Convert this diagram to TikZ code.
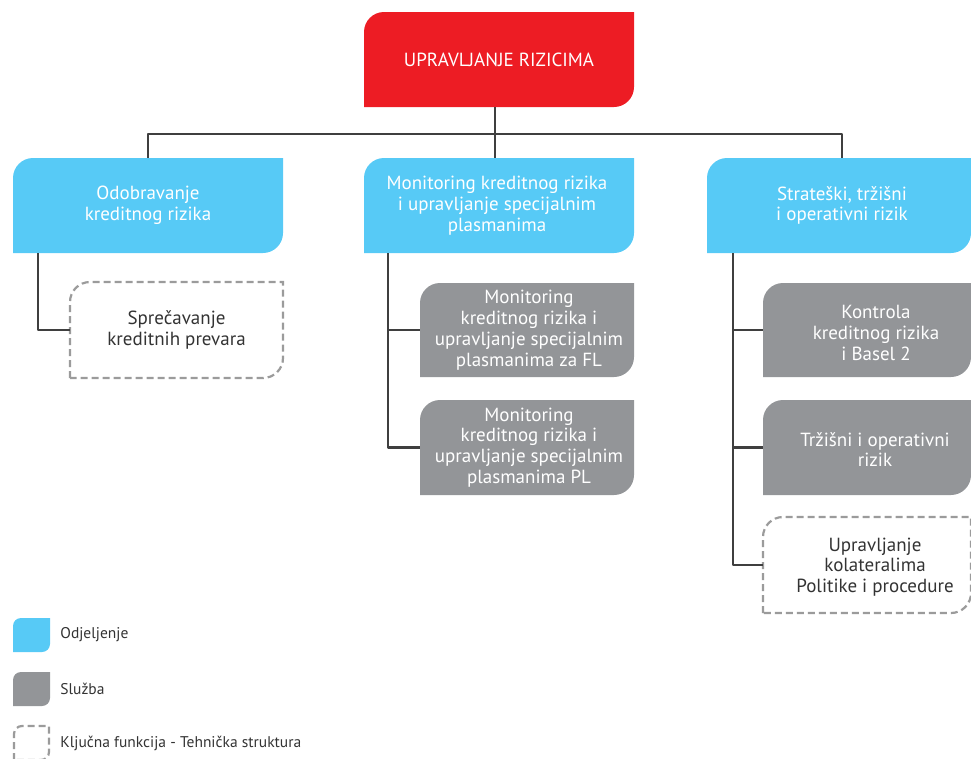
\documentclass[tikz,border=0pt]{standalone}
\usepackage{fontspec}
\setmainfont{PT Sans}
\usetikzlibrary{calc}
\definecolor{rRed}{HTML}{ED1C24}
\definecolor{rBlue}{HTML}{57CAF6}
\definecolor{rGrey}{HTML}{939598}
\definecolor{rLine}{HTML}{3F3F3F}
\definecolor{rDash}{HTML}{9B9B9B}
\definecolor{rText}{HTML}{333333}
% #1 name, #2 style, #3 radius, #4 x1, #5 y1, #6 x2, #7 y2 (pixel coords, y down)
\newcommand\leafbox[7]{%
  \path[#2] (#4,-#7) -- ({#4},{-#5-#3}) arc[start angle=180,end angle=90,radius=#3]
    -- (#6,-#5) -- ({#6},{-#7+#3}) arc[start angle=0,end angle=-90,radius=#3] -- cycle;
  \node[inner sep=0pt, minimum width={(#6-#4)*1pt}, minimum height={(#7-#5)*1pt}]
    (#1) at ({(#4+#6)/2},{-(#5+#7)/2}) {};
}
\tikzset{
  redfill/.style={fill=rRed},
  bluefill/.style={fill=rBlue},
  greyfill/.style={fill=rGrey},
  dashbox/.style={draw=rDash, line width=2.2pt, dash pattern=on 7pt off 4pt},
  conn/.style={draw=rLine, line width=2.6pt, line join=round},
  wtext/.style={align=center, text=white, inner sep=0pt, font=\fontsize{19}{20.8}\selectfont},
  dtext/.style={align=center, text=rText, inner sep=0pt, font=\fontsize{19}{20.8}\selectfont},
  legtext/.style={anchor=west, text=rText, inner sep=0pt, font=\fontsize{15.5}{17}\selectfont},
}
\begin{document}
\begin{tikzpicture}[x=1pt,y=1pt]
\useasboundingbox (0,0) rectangle (971,-758);
% boxes
\leafbox{top}{redfill}{20}{364}{12}{634}{107}
\leafbox{b1}{bluefill}{20}{13}{158}{283}{253}
\leafbox{b2}{bluefill}{20}{364}{158}{634}{253}
\leafbox{b3}{bluefill}{20}{707}{158}{971}{253}
\leafbox{d1}{dashbox}{20}{70}{282}{283}{378}
\leafbox{g1}{greyfill}{20}{420}{283}{634}{377}
\leafbox{g2}{greyfill}{20}{420}{400}{634}{495}
\leafbox{g3}{greyfill}{20}{763}{283}{971}{377}
\leafbox{g4}{greyfill}{20}{763}{400}{971}{495}
\leafbox{d2}{dashbox}{20}{763}{517}{971}{613}
% legend boxes
\leafbox{l1}{bluefill}{8}{13}{618}{50}{652}
\leafbox{l2}{greyfill}{8}{13}{672}{50}{706}
\leafbox{l3}{dashbox}{8}{14}{726}{49}{760}
% texts
\node[wtext] (topt) at (top.center) {UPRAVLJANJE RIZICIMA};
\node[wtext] (b1t) at (b1.center) {Odobravanje\\kreditnog rizika};
\node[wtext] (b2t) at ([xshift=-2]b2.center) {Monitoring kreditnog rizika\\i upravljanje specijalnim\\plasmanima};
\node[wtext] (b3t) at ([xshift=3]b3.center) {Strateški, tržišni\\i operativni rizik};
\node[dtext] (d1t) at (d1.center) {Sprečavanje\\kreditnih prevara};
\node[wtext] (g1t) at ([xshift=2]g1.center) {Monitoring\\kreditnog rizika i\\upravljanje specijalnim\\plasmanima za FL};
\node[wtext] (g2t) at ([xshift=2]g2.center) {Monitoring\\kreditnog rizika i\\upravljanje specijalnim\\plasmanima PL};
\node[wtext] (g3t) at ([shift={(9,-3)}]g3.center) {Kontrola\\kreditnog rizika\\i Basel 2};
\node[wtext] (g4t) at ([shift={(8,-2)}]g4.center) {Tržišni i operativni\\rizik};
\node[dtext] (d2t) at ([shift={(8,-2)}]d2.center) {Upravljanje\\kolateralima\\Politike i procedure};
\node[legtext] (l1t) at ([xshift=10]l1.east) {Odjeljenje};
\node[legtext] (l2t) at ([xshift=10]l2.east) {Služba};
\node[legtext] (l3t) at ([xshift=11]l3.east |- 0,-743) {Ključna funkcija - Tehnička struktura};
% connectors
\coordinate (bus) at (0,-134);
\draw[conn] ([xshift=-4]top.south) -- ([xshift=-4]b2.north);
\draw[conn] (b1.north) -- (b1.north |- bus) -- ([xshift=3]b3.north |- bus) -- ([xshift=3]b3.north);
\draw[conn] ([xshift=-110]b1.south) |- (d1.west);
\draw[conn] ([xshift=-111]b2.south) |- (g2.west);
\draw[conn] ([xshift=-111]b2.south |- g1.west) -- (g1.west);
\draw[conn] ([xshift=-106]b3.south) |- (d2.west);
\draw[conn] ([xshift=-106]b3.south |- g3.west) -- (g3.west);
\draw[conn] ([xshift=-106]b3.south |- g4.west) -- (g4.west);
\end{tikzpicture}
\end{document}
